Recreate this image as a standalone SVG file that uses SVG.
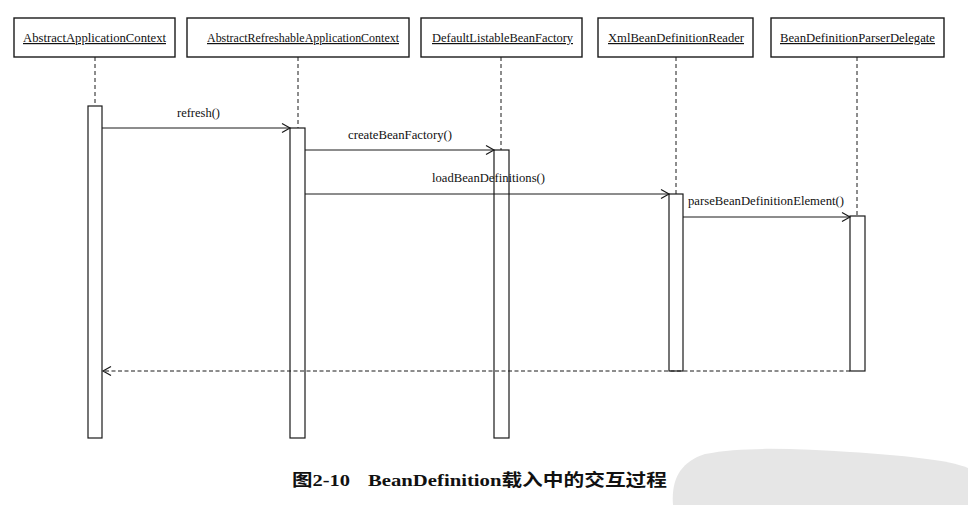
<svg xmlns="http://www.w3.org/2000/svg" width="968" height="505" viewBox="0 0 968 505">
  <style>
    .box { fill: #fff; stroke: #1a1a1a; stroke-width: 1.4; }
    .act { fill: #fff; stroke: #1a1a1a; stroke-width: 1.2; }
    .life { stroke: #1a1a1a; stroke-width: 1; stroke-dasharray: 4 3; fill: none; }
    .msg { stroke: #1a1a1a; stroke-width: 1; fill: none; }
    .ret { stroke: #1a1a1a; stroke-width: 1; fill: none; stroke-dasharray: 4 2.5; }
    .name { font-family: "Liberation Serif", "Times New Roman", serif; font-size: 12px; fill: #111; text-decoration: underline; }
    .lbl { font-family: "Liberation Serif", "Times New Roman", serif; font-size: 11.5px; fill: #111; }
    .cap { font-family: "Liberation Serif", "Noto Sans CJK SC", serif; font-size: 17px; font-weight: bold; fill: #111; }
  </style>
  <defs>
    <marker id="open" markerUnits="userSpaceOnUse" markerWidth="12" markerHeight="12" refX="10" refY="6" orient="auto">
      <path d="M2,1.5 L10,6 L2,10.5" fill="none" stroke="#1a1a1a" stroke-width="1.2"/>
    </marker>
  </defs>
  <rect width="968" height="505" fill="#fff"/>

  <!-- watermark blob -->
  <path d="M673,505 C671,480 680,462 705,454 C745,446 800,449 850,452 C900,455 950,460 968,468 L968,505 Z" fill="#e6e6e6"/>

  <g id="node-AbstractApplicationContext">
    <rect class="box" x="14" y="18" width="161" height="39"/>
    <text class="name" x="23" y="42" textLength="143" lengthAdjust="spacingAndGlyphs">AbstractApplicationContext</text>
    <line class="life" x1="95" y1="57" x2="95" y2="106"/>
    <rect class="act" x="88" y="106" width="14" height="332"/>
  </g>
  <g id="node-AbstractRefreshableApplicationContext">
    <rect class="box" x="187" y="18" width="222" height="39"/>
    <text class="name" x="207" y="42" textLength="192" lengthAdjust="spacingAndGlyphs">AbstractRefreshableApplicationContext</text>
    <line class="life" x1="298" y1="57" x2="298" y2="128"/>
    <rect class="act" x="290" y="128" width="15" height="310"/>
  </g>
  <g id="node-DefaultListableBeanFactory">
    <rect class="box" x="421" y="18" width="161" height="39"/>
    <text class="name" x="432" y="42" textLength="141" lengthAdjust="spacingAndGlyphs">DefaultListableBeanFactory</text>
    <line class="life" x1="501" y1="57" x2="501" y2="150"/>
    <rect class="act" x="494" y="150" width="15" height="288"/>
  </g>
  <g id="node-XmlBeanDefinitionReader">
    <rect class="box" x="598" y="18" width="155" height="39"/>
    <text class="name" x="608" y="42" textLength="136" lengthAdjust="spacingAndGlyphs">XmlBeanDefinitionReader</text>
    <line class="life" x1="676" y1="57" x2="676" y2="194"/>
    <rect class="act" x="669" y="194" width="14" height="177"/>
  </g>
  <g id="node-BeanDefinitionParserDelegate">
    <rect class="box" x="771" y="18" width="173" height="39"/>
    <text class="name" x="780" y="42" textLength="155" lengthAdjust="spacingAndGlyphs">BeanDefinitionParserDelegate</text>
    <line class="life" x1="857" y1="57" x2="857" y2="216"/>
    <rect class="act" x="850" y="216" width="15" height="155"/>
  </g>

  <g id="connectors">
    <line class="msg" x1="102" y1="128" x2="290" y2="128" marker-end="url(#open)"/>
    <text class="lbl" x="177" y="117" textLength="43" lengthAdjust="spacingAndGlyphs">refresh()</text>
    <line class="msg" x1="305" y1="150" x2="494" y2="150" marker-end="url(#open)"/>
    <text class="lbl" x="348" y="139" textLength="104" lengthAdjust="spacingAndGlyphs">createBeanFactory()</text>
    <line class="msg" x1="305" y1="194" x2="669" y2="194" marker-end="url(#open)"/>
    <text class="lbl" x="432" y="182" textLength="113" lengthAdjust="spacingAndGlyphs">loadBeanDefinitions()</text>
    <line class="msg" x1="683" y1="217" x2="850" y2="217" marker-end="url(#open)"/>
    <text class="lbl" x="688" y="205" textLength="156" lengthAdjust="spacingAndGlyphs">parseBeanDefinitionElement()</text>
    <line class="ret" x1="850" y1="371" x2="103" y2="371" marker-end="url(#open)"/>
  </g>

  <text class="cap" x="292" y="486" textLength="58" lengthAdjust="spacingAndGlyphs">图2-10</text>
  <text class="cap" x="368" y="486" textLength="299" lengthAdjust="spacingAndGlyphs">BeanDefinition载入中的交互过程</text>
</svg>
